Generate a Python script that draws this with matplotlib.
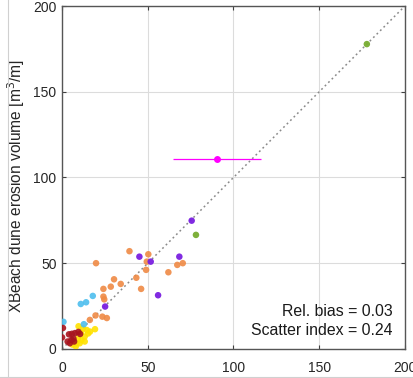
import matplotlib
matplotlib.use("Agg")
import matplotlib.pyplot as plt
from matplotlib.lines import Line2D

plt.rcParams['font.family'] = ['Liberation Sans', 'DejaVu Sans']

# Measured vs. modelled dune erosion volumes per storm case [m3/m]
orange_x = [39.3, 50.3, 19.8, 49.4, 67.2, 70.4, 49.0, 62.0, 43.3, 30.3, 34.2, 28.4,
            24.1, 46.1, 24.6, 24.1, 16.2, 19.5, 23.5, 26.1]
orange_y = [57.0, 55.2, 50.0, 50.9, 49.0, 50.0, 46.1, 44.7, 41.5, 40.6, 37.9, 36.3,
            35.0, 35.0, 28.9, 30.5, 16.9, 19.5, 18.8, 18.0]

purple_x = [45.1, 51.7, 68.4, 56.0, 25.1, 75.6]
purple_y = [53.8, 50.9, 53.8, 31.3, 24.7, 74.8]

green_x = [177.8, 78.1]
green_y = [177.8, 66.5]

magenta_x = [90.2]
magenta_y = [110.6]
magenta_xerr = [25.7]

cyan_x = [10.9, 14.0, 17.9, 12.7, 0.8]
cyan_y = [26.2, 27.2, 30.9, 14.4, 15.8]

red_x = [0.5, 0.0, 4.0, 5.7, 7.5, 9.5, 10.5, 3.2, 4.5, 5.4, 7.0, 6.6]
red_y = [12.2, 6.7, 8.5, 8.8, 9.2, 9.9, 8.7, 4.3, 3.3, 5.2, 4.3, 6.0]

yellow_x = [9.6, 12.2, 14.4, 16.3, 19.2, 9.3, 11.3, 13.2, 8.3, 10.3, 13.2, 15.2, 11.0, 6.0, 8.0]
yellow_y = [13.2, 12.0, 11.0, 10.1, 11.5, 6.2, 5.2, 7.2, 3.3, 3.3, 4.3, 9.0, 9.5, 2.5, 1.5]

ticks = [0, 50, 100, 150, 200]
stats_text = ["Rel. bias = 0.03", "Scatter index = 0.24"]

fig = plt.figure(figsize=(4.14, 3.78), dpi=100)
ax = fig.add_axes([0.150, 0.077, 0.828, 0.907])

# 1:1 reference line
ax.plot([0, 200], [0, 200], linestyle=(0, (1.2, 2.0)), color='#8a8a8a', lw=1.1, zorder=2)

ms = 22
ax.scatter(yellow_x, yellow_y, s=ms, color='#FFE200', alpha=0.9, edgecolors='none', zorder=3)
ax.scatter(red_x, red_y, s=ms, color='#A8141E', alpha=0.9, edgecolors='none', zorder=4)
ax.scatter(cyan_x, cyan_y, s=ms, color='#4DBEEE', alpha=0.9, edgecolors='none', zorder=3)
ax.scatter(orange_x, orange_y, s=ms, color='#EF8A45', alpha=0.9, edgecolors='none', zorder=3)
ax.scatter(purple_x, purple_y, s=ms, color='#7A1FE0', alpha=0.95, edgecolors='none', zorder=4)
ax.scatter(green_x, green_y, s=ms, color='#77AC30', alpha=0.95, edgecolors='none', zorder=4)
ax.errorbar(magenta_x, magenta_y, xerr=magenta_xerr, fmt='o', color='#FF00FF',
            ms=5, mec='none', elinewidth=0.9, capsize=0, zorder=5)

ax.set_xlim(0, 200)
ax.set_ylim(0, 200)
ax.set_xticks(ticks)
ax.set_yticks(ticks)
ax.grid(True, color='#dcdcdc', lw=0.8)
ax.set_axisbelow(True)
ax.tick_params(direction='in', length=3, width=0.8, color='#404040',
               top=True, right=True, labelsize=10, labelcolor='#262626')
ax.tick_params(axis='x', pad=9)
ax.tick_params(axis='y', pad=4)
for sp in ax.spines.values():
    sp.set_color('#555555')
    sp.set_linewidth(1.0)

ax.set_ylabel("XBeach dune erosion volume [m$^3$/m]", fontsize=11.2, color='#262626')
ax.yaxis.set_label_coords(-0.103, 0.474)

ax.text(193, 21.7, stats_text[0], ha='right', va='center', fontsize=11.4, color='#1a1a1a')
ax.text(193, 10.7, stats_text[1], ha='right', va='center', fontsize=11.4, color='#1a1a1a')

# thin panel border on the left and bottom
fig.add_artist(Line2D([8 / 414, 8 / 414], [0, 1], transform=fig.transFigure,
                      color='#d0d0d0', lw=0.8))
fig.add_artist(Line2D([0, 1], [1.5 / 378, 1.5 / 378], transform=fig.transFigure,
                      color='#d0d0d0', lw=0.8))

fig.savefig("out.png", dpi=100)
